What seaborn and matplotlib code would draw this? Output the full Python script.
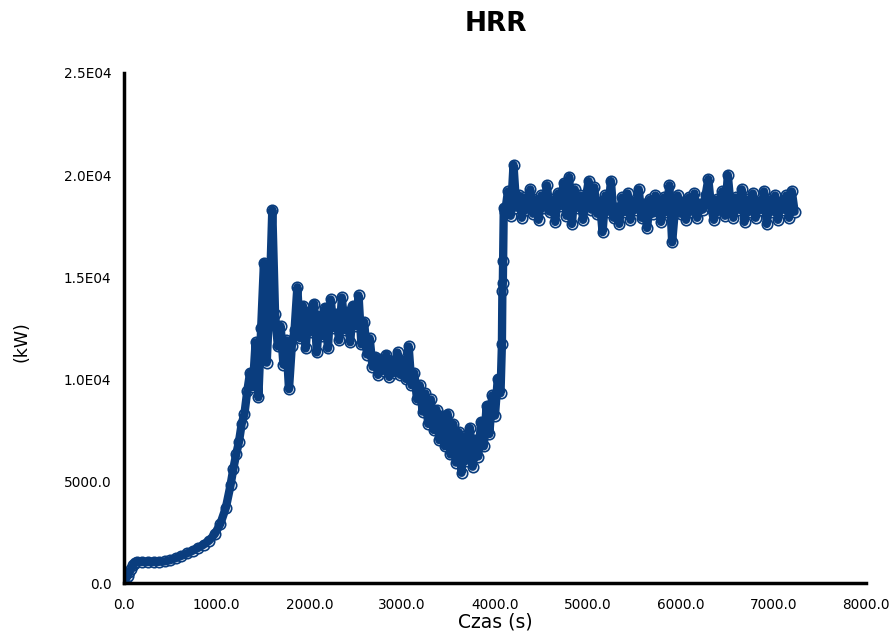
import numpy as np
import pandas as pd
import matplotlib
matplotlib.use("Agg")
import matplotlib.pyplot as plt
import seaborn as sns

# ---------------- data ----------------
t_early = [0, 20, 40, 60, 80, 100, 120, 140, 200, 260, 320, 380, 440, 500, 560,
           620, 680, 740, 800, 860, 920, 980, 1040, 1100, 1150]
v_early = [0, 180, 350, 520, 700, 860, 1000, 1030, 1030, 1030, 1030, 1040, 1060, 1120, 1220,
           1330, 1450, 1580, 1720, 1880, 2080, 2400, 2900, 3700, 4800]

t_growth = [1180, 1210, 1240, 1270, 1300, 1330, 1360, 1390, 1420, 1450,
            1480, 1510, 1540, 1570, 1600, 1630, 1660, 1690, 1720, 1750,
            1780, 1810, 1840, 1870, 1900, 1930, 1960, 1990, 2020, 2050,
            2080, 2110, 2140, 2170, 2200, 2230, 2260, 2290, 2320, 2350,
            2380, 2410, 2440, 2470, 2500, 2530, 2560, 2590, 2620, 2650,
            2680, 2710, 2740, 2770, 2800, 2830, 2860, 2890, 2920, 2950,
            2980]
v_growth = [5600, 6300, 6900, 7800, 8300, 9400, 10300, 9600, 11800, 9100,
            12500, 15700, 10800, 13800, 18300, 13200, 11600, 12600, 10700, 11900,
            9500, 11600, 12400, 14500, 12000, 13600, 11500, 13300, 12300, 13700,
            11300, 13100, 12100, 13500, 11500, 13900, 12500, 13200, 11900, 14000,
            12400, 13300, 11800, 13600, 12600, 14100, 11700, 12800, 11200, 12000,
            10600, 11100, 10200, 11000, 10400, 11200, 10100, 10900, 10300, 11300,
            10200]

t_valley = [3010, 3040, 3070, 3100, 3130, 3160, 3190, 3220, 3250, 3280,
            3310, 3340, 3370, 3400, 3430, 3460, 3490, 3520, 3550, 3580,
            3610, 3640, 3670, 3700, 3730, 3760, 3790, 3820, 3850, 3880,
            3910, 3940, 3970, 4000, 4030, 4060]
v_valley = [10900, 10000, 11600, 9700, 10300, 9000, 9700, 8400, 9300, 7800,
            9000, 7500, 8500, 7000, 8200, 6700, 8300, 6300, 7800, 5900,
            7400, 5400, 7200, 6000, 7600, 5700, 7000, 6200, 7900, 6700,
            8700, 7300, 9200, 8200, 10000, 9300]

t_jump = [4075, 4080, 4085, 4088, 4095]
v_jump = [11700, 14300, 14700, 15800, 18400]

t_plateau = [4110, 4140, 4170, 4200, 4230, 4260, 4290, 4320, 4350, 4380,
             4410, 4440, 4470, 4500, 4530, 4560, 4590, 4620, 4650, 4680,
             4710, 4740, 4770, 4800, 4830, 4860, 4890, 4920, 4950, 4980,
             5010, 5040, 5070, 5100, 5130, 5160, 5190, 5220, 5250, 5280,
             5310, 5340, 5370, 5400, 5430, 5460, 5490, 5520, 5550, 5580,
             5610, 5640, 5670, 5700, 5730, 5760, 5790, 5820, 5850, 5880,
             5910, 5940, 5970, 6000, 6030, 6060, 6090, 6120, 6150, 6180,
             6210, 6240, 6270, 6300, 6330, 6360, 6390, 6420, 6450, 6480,
             6510, 6540, 6570, 6600, 6630, 6660, 6690, 6720, 6750, 6780,
             6810, 6840, 6870, 6900, 6930, 6960, 6990, 7020, 7050, 7080,
             7110, 7140, 7170, 7200, 7230]
v_plateau = [18200, 19200, 18000, 20500, 18400, 19000, 17900, 18900, 18300, 19300,
             18100, 18800, 17800, 19000, 18400, 19500, 18200, 18800, 17700, 19100,
             18500, 19600, 18000, 19900, 17600, 19300, 18400, 19000, 17800, 18900,
             19700, 18300, 19400, 18100, 18700, 17200, 19000, 18200, 19700, 17900,
             18400, 17600, 18900, 18200, 19100, 17800, 18700, 18300, 19300, 17900,
             18600, 17400, 18800, 18100, 19000, 18300, 17700, 18900, 18200, 19500,
             16700, 18300, 19000, 18100, 18700, 17800, 18900, 18200, 19100, 17900,
             18600, 18300, 19000, 19800, 18400, 17800, 18800, 18200, 19200, 18000,
             20000, 18500, 17900, 18900, 18300, 19300, 17700, 18800, 18200, 19100,
             17900, 18700, 18300, 19200, 17600, 18800, 18200, 19000, 17800, 18700,
             18300, 19000, 17900, 19200, 18200]

x_ticks = [0, 1000, 2000, 3000, 4000, 5000, 6000, 7000, 8000]
x_tick_labels = ["0.0", "1000.0", "2000.0", "3000.0", "4000.0", "5000.0", "6000.0", "7000.0", "8000.0"]
y_ticks = [0, 5000, 10000, 15000, 20000, 25000]
y_tick_labels = ["0.0", "5000.0", "1.0E04", "1.5E04", "2.0E04", "2.5E04"]

title = "HRR"
x_label = "Czas (s)"
y_label = "(kW)"

# ---------------- plot ----------------
sns.set_theme(style="white")
plt.rcParams["font.family"] = ["DejaVu Sans"]
plt.rcParams["text.color"] = "black"

df = pd.DataFrame({
    "t": t_early + t_growth + t_valley + t_jump + t_plateau,
    "v": v_early + v_growth + v_valley + v_jump + v_plateau,
})

NAVY = "#0a3d7e"

fig = plt.figure(figsize=(8.91, 6.32), dpi=100)
ax = fig.add_axes([0.139, 0.0775, 0.833, 0.807])

# markers underneath (visible only at the edges of the band)
sns.lineplot(data=df, x="t", y="v", ax=ax, sort=False, estimator=None,
             color=NAVY, linewidth=0, marker="o", markersize=7.5,
             markerfacecolor="#eef2f8", markeredgecolor=NAVY, markeredgewidth=1.2)
# thick line on top
sns.lineplot(data=df, x="t", y="v", ax=ax, sort=False, estimator=None,
             color=NAVY, linewidth=6.0, solid_joinstyle="round", solid_capstyle="round")

ax.set_xlim(0, 8000)
ax.set_ylim(0, 25000)
ax.set_xticks(x_ticks)
ax.set_xticklabels(x_tick_labels)
ax.set_yticks(y_ticks)
ax.set_yticklabels(y_tick_labels)
ax.set_xlabel("")
ax.set_ylabel("")

for s in ["top", "right"]:
    ax.spines[s].set_visible(False)
for s in ["left", "bottom"]:
    ax.spines[s].set_linewidth(2.5)
    ax.spines[s].set_color("black")

ax.tick_params(axis="both", direction="inout", length=10, width=2.2,
               labelsize=9.8, colors="black", pad=4)
ax.tick_params(axis="x", pad=6)

fig.text(0.556, 0.962, title, ha="center", va="center", fontsize=19,
         fontweight="bold", color="black")
fig.text(0.556, 0.016, x_label, ha="center", va="center", fontsize=13.5, color="black")
fig.text(0.024, 0.46, y_label, ha="center", va="center", fontsize=12.5,
         rotation=90, color="black")

fig.savefig("out.png", dpi=100)
